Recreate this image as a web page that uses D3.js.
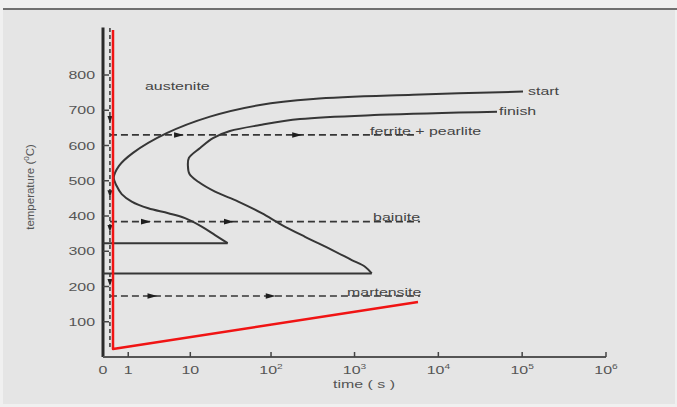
<!DOCTYPE html>
<html>
<head>
<meta charset="utf-8">
<script src="https://cdn.jsdelivr.net/npm/d3@7"></script>
<style>
  body { margin: 0; background: #f0f0f0; }
  text { font-family: "Liberation Sans", Arial, sans-serif; }
</style>
</head>
<body>
<div id="chart"></div>
<script>
// axis ticks
const yTicks = [100, 200, 300, 400, 500, 600, 700, 800];
const xTicks = [0, 1, 10, 100, 1e3, 1e4, 1e5, 1e6];
const xTickBase = ["0", "1", "10", "10", "10", "10", "10", "10"];
const xTickExp = ["", "", "", "2", "3", "4", "5", "6"];

// transformation start curve (time in s, temperature in °C)
const startTime = [102300, 4990, 320, 73.6, 17.9, 4.75, 1.28, 0.552, 0.345, 0.457, 0.671, 1.2, 2.47, 5.01, 8.51, 14.05, 20.7, 29.7];
const startTemp = [753, 744, 732, 715, 682, 635, 579, 542, 508, 485, 462, 441, 422, 408, 394, 370, 346, 323];

// transformation finish curve
const finishTime = [50100, 2015, 223, 73.6, 31.7, 19.5, 13.4, 9.6, 9.3, 9.76, 12.7, 20.7, 40.1, 77.2, 134, 256, 535, 926, 1334, 1604];
const finishTemp = [696, 687, 675, 658, 641, 621, 593, 565, 542, 519, 497, 469, 441, 408, 375, 341, 304, 275, 256, 237];

// red cooling path
const coolTime = [0.316, 0.316, 5720];
const coolTemp = [928, 23, 156];

// quench guide and isothermal holds
const quenchTime = 0.21;
const quenchTemps = [933, 20];
const quenchArrowTemps = [672, 462, 363, 210];
const isoTemps = [630, 384, 173];
const isoEnd = [5570, 6050, 6050];
const isoArrowTimes = [[7.3, 212], [2.35, 31.7], [3.0, 102]];

// phase labels
const labelText = ["austenite", "start", "finish", "ferrite + pearlite", "bainite", "martensite"];
const labelTime = [2.17, 117500, 52970, 1531, 1663, 813];
const labelTemp = [757, 743, 686, 630, 386, 173];

const width = 677, height = 407;
const sx = 1.45; // picture is stretched sideways

const svg = d3.select("#chart").append("svg")
    .attr("width", width)
    .attr("height", height);

svg.append("rect").attr("width", width).attr("height", height).attr("fill", "#f0f0f0");
svg.append("rect").attr("x", 3).attr("y", 9).attr("width", 672).attr("height", 395).attr("fill", "#e5e5e5");
svg.append("line").attr("x1", 3).attr("x2", width).attr("y1", 9).attr("y2", 9)
    .attr("stroke", "#707070").attr("stroke-width", 2);

const x = d3.scaleSymlog().constant(1).domain([0, 1e6]).range([103, 606]);
const y = d3.scaleLinear().domain([0, 800]).range([357, 75]);

const ink = "#363636";

// axes
svg.append("line")
    .attr("x1", x(0)).attr("x2", x(0))
    .attr("y1", y(935)).attr("y2", y(0))
    .attr("stroke", "#2a2a2a").attr("stroke-width", 3);
svg.append("line")
    .attr("x1", x(0)).attr("x2", x(1e6))
    .attr("y1", y(0)).attr("y2", y(0))
    .attr("stroke", "#555").attr("stroke-width", 2);

svg.selectAll(".ytick").data(yTicks).enter().append("line")
    .attr("x1", x(0)).attr("x2", x(0) + 6)
    .attr("y1", d => y(d)).attr("y2", d => y(d))
    .attr("stroke", "#444").attr("stroke-width", 1.5);

svg.selectAll(".ylab").data(yTicks).enter().append("text")
    .attr("transform", d => `translate(95,${y(d) + 4}) scale(${sx},1)`)
    .attr("text-anchor", "end")
    .attr("font-size", 11)
    .attr("fill", "#555")
    .text(d => d);

svg.selectAll(".xtick").data(xTicks.slice(1)).enter().append("line")
    .attr("x1", d => x(d)).attr("x2", d => x(d))
    .attr("y1", y(0)).attr("y2", y(0) - 5)
    .attr("stroke", "#444").attr("stroke-width", 1.5);

const xl = svg.selectAll(".xlab").data(xTicks).enter().append("text")
    .attr("transform", d => `translate(${x(d)},374) scale(${sx},1)`)
    .attr("text-anchor", "middle")
    .attr("font-size", 11)
    .attr("fill", "#555");
xl.append("tspan").text((d, i) => xTickBase[i]);
xl.append("tspan").attr("font-size", 7).attr("dy", -5).text((d, i) => xTickExp[i]);

svg.append("text")
    .attr("transform", `translate(333,388) scale(${sx},1)`)
    .attr("font-size", 11).attr("fill", "#555")
    .text("time ( s )");

const yLabel = svg.append("text")
    .attr("transform", "translate(34,187) rotate(-90)")
    .attr("text-anchor", "middle")
    .attr("font-size", 11.5).attr("fill", "#555");
yLabel.append("tspan").text("temperature (");
yLabel.append("tspan").attr("font-size", 8).attr("dy", -5).text("0");
yLabel.append("tspan").attr("dy", 5).text("C)");

// curves
const smooth = d3.line().x(d => x(d[0])).y(d => y(d[1])).curve(d3.curveCatmullRom.alpha(0.5));
const straight = d3.line().x(d => x(d[0])).y(d => y(d[1]));

[[startTime, startTemp], [finishTime, finishTemp]].forEach(([ts, Ts]) => {
    const pts = ts.map((t, i) => [t, Ts[i]]);
    svg.append("path").datum(pts)
        .attr("fill", "none").attr("stroke", ink).attr("stroke-width", 2)
        .attr("d", smooth);
    const tip = pts[pts.length - 1];
    svg.append("path").datum([[0, tip[1]], tip])
        .attr("fill", "none").attr("stroke", ink).attr("stroke-width", 2)
        .attr("d", straight);
});

// quench guide
svg.append("path").datum(quenchTemps.map(T => [quenchTime, T]))
    .attr("fill", "none").attr("stroke", ink).attr("stroke-width", 1.5)
    .attr("stroke-dasharray", "4,3")
    .attr("d", straight);
svg.selectAll(".qarrow").data(quenchArrowTemps).enter().append("path")
    .attr("transform", d => `translate(${x(quenchTime)},${y(d)})`)
    .attr("d", "M-2.5,-4L2.5,-4L0,3Z")
    .attr("fill", "#222");

// isothermal holds
isoTemps.forEach((T, i) => {
    svg.append("path").datum([[quenchTime, T], [isoEnd[i], T]])
        .attr("fill", "none").attr("stroke", ink).attr("stroke-width", 1.7)
        .attr("stroke-dasharray", "7,4")
        .attr("d", straight);
    svg.selectAll(".iarrow" + i).data(isoArrowTimes[i]).enter().append("path")
        .attr("transform", t => `translate(${x(t)},${y(T)})`)
        .attr("d", "M-6,-2.8L4,0L-6,2.8Z")
        .attr("fill", "#1e1e1e");
});

// red cooling path
svg.append("path").datum(coolTime.map((t, i) => [t, coolTemp[i]]))
    .attr("fill", "none").attr("stroke", "#f01414").attr("stroke-width", 2.5)
    .attr("stroke-linejoin", "round")
    .attr("d", straight);

// labels
svg.selectAll(".plab").data(labelText).enter().append("text")
    .attr("transform", (d, i) => `translate(${x(labelTime[i])},${y(labelTemp[i])}) scale(${sx},1)`)
    .attr("font-size", 11)
    .attr("fill", "#444")
    .text(d => d);
</script>
</body>
</html>
